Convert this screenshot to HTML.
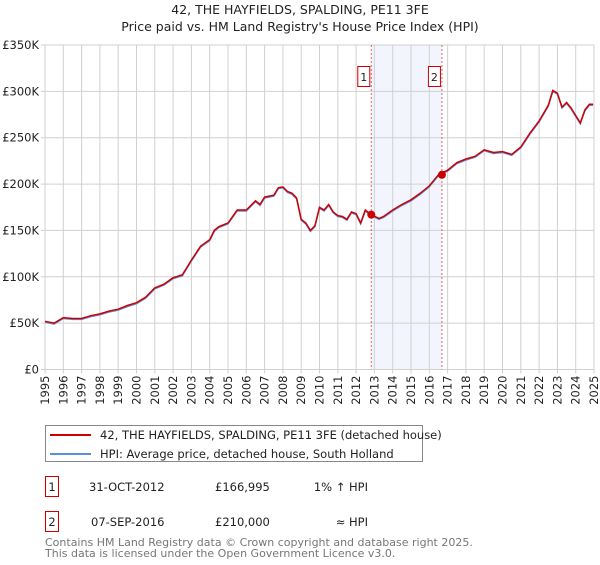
<!DOCTYPE html>
<html><head><meta charset="utf-8"><style>
body{margin:0;background:#fff;font-family:"Liberation Sans","DejaVu Sans",sans-serif;}
svg text{font-family:"DejaVu Sans","Liberation Sans",sans-serif;}
</style></head><body>
<svg id="chart" width="600" height="560" viewBox="0 0 600 560" xmlns="http://www.w3.org/2000/svg">
<text x="300" y="14" text-anchor="middle" font-size="12.5" fill="#222">42, THE HAYFIELDS, SPALDING, PE11 3FE</text>
<text x="300" y="31" text-anchor="middle" font-size="12.5" fill="#222">Price paid vs. HM Land Registry's House Price Index (HPI)</text>
<g id="plot"></g>
<g>
<rect x="45.5" y="425.5" width="377" height="36" fill="#fff" stroke="#888"/>
<line x1="50" y1="435" x2="91" y2="435" stroke="#cc0000" stroke-width="2"/>
<text x="100" y="439" font-size="11.5" fill="#222">42, THE HAYFIELDS, SPALDING, PE11 3FE (detached house)</text>
<line x1="50" y1="454" x2="91" y2="454" stroke="#5b8fd6" stroke-width="2"/>
<text x="100" y="458" font-size="11.5" fill="#222">HPI: Average price, detached house, South Holland</text>
</g>
<g font-size="11.5" fill="#222">
<rect x="45.5" y="476.5" width="13" height="20" fill="#fff" stroke="#cc0000"/>
<text x="52" y="491" text-anchor="middle">1</text>
<text x="89" y="491">31-OCT-2012</text>
<text x="215" y="491">£166,995</text>
<text x="368" y="491" text-anchor="end">1% ↑ HPI</text>
</g>
<g font-size="11.5" fill="#222">
<rect x="45.5" y="511.5" width="13" height="20" fill="#fff" stroke="#cc0000"/>
<text x="52" y="526" text-anchor="middle">2</text>
<text x="91" y="526">07-SEP-2016</text>
<text x="215" y="526">£210,000</text>
<text x="368" y="526" text-anchor="end">≈ HPI</text>
</g>
<text x="45" y="546" font-size="11" fill="#777">Contains HM Land Registry data © Crown copyright and database right 2025.</text>
<text x="45" y="557" font-size="11" fill="#777">This data is licensed under the Open Government Licence v3.0.</text>
</svg>
<script>
const priceYears=[1995,1995.5,1996,1996.5,1997,1997.5,1998,1998.5,1999,1999.5,2000,2000.5,2001,2001.5,2002,2002.5,2003,2003.5,2004,2004.25,2004.5,2005,2005.5,2006,2006.5,2006.75,2007,2007.5,2007.75,2008,2008.25,2008.5,2008.75,2009,2009.25,2009.5,2009.75,2010,2010.25,2010.5,2010.75,2011,2011.25,2011.5,2011.75,2012,2012.25,2012.5,2012.83,2013.25,2013.5,2014,2014.5,2015,2015.5,2016,2016.5,2017,2017.5,2018,2018.5,2019,2019.5,2020,2020.5,2021,2021.5,2022,2022.5,2022.75,2023,2023.25,2023.5,2023.75,2024,2024.25,2024.5,2024.75,2024.95];
const priceValues=[52,50,56,55,55,58,60,63,65,69,72,78,88,92,99,102,118,133,140,150,154,158,172,172,182,178,186,188,196,197,192,190,185,162,158,150,155,175,172,178,170,166,165,162,170,168,158,172,167,163,165,172,178,183,190,198,210,215,223,227,230,237,234,235,232,240,255,268,285,301,298,283,288,282,274,266,280,286,286];
const hpiValues=[51,49,55,54,54,57,59,62,64,68,71,77,87,91,98,101,117,132,139,149,153,157,171,171,181,177,185,187,195,196,191,189,184,161,157,149,154,174,171,177,169,165,164,161,169,167,157,171,166,162,164,171,177,182,189,197,209,214,222,226,229,236,233,234,231,239,254,267,284,300,297,282,287,281,273,265,279,285,285];
const yTicks=[0,50,100,150,200,250,300,350];
const yTickLabels=["£0","£50K","£100K","£150K","£200K","£250K","£300K","£350K"];
const xTicks=[1995,1996,1997,1998,1999,2000,2001,2002,2003,2004,2005,2006,2007,2008,2009,2010,2011,2012,2013,2014,2015,2016,2017,2018,2019,2020,2021,2022,2023,2024,2025];
const saleYears=[2012.83,2016.69];
const saleValues=[166.995,210];
const saleLabels=["1","2"];
const X=y=>45+(y-1995)*(549/30);
const Y=v=>369.5-v*(324.5/350);
const NS="http://www.w3.org/2000/svg";
const g=document.getElementById('plot');
function mk(t,a){const e=document.createElementNS(NS,t);for(const k in a)e.setAttribute(k,a[k]);g.appendChild(e);return e;}
let e;
e=mk('rect',{x:X(saleYears[0]),y:Y(350),width:X(saleYears[1])-X(saleYears[0]),height:Y(0)-Y(350),fill:'#f2f5fd'});


xTicks.forEach(t=>{
 e=mk('line',{x1:X(t),x2:X(t),y1:Y(350),y2:Y(0)+4,stroke:'#d0d0d0','stroke-width':1});
 
 
 e=mk('text',{transform:`translate(${X(t)+4},${Y(0)+6}) rotate(-90)`,'text-anchor':'end','font-size':11.5,fill:'#222'});
 e.textContent=t;
 
 
});
yTicks.forEach((t,i)=>{
 e=mk('line',{x1:X(1995)-4,x2:X(2025),y1:Y(t),y2:Y(t),stroke:'#d0d0d0','stroke-width':1});
 
 
 e=mk('text',{x:X(1995)-6,y:Y(t)+4,'text-anchor':'end','font-size':11.5,fill:'#222'});
 e.textContent=yTickLabels[i];
 
 
});
saleYears.forEach((s,i)=>{
 e=mk('line',{x1:X(s),x2:X(s),y1:Y(350),y2:Y(0),stroke:'#e06060','stroke-width':1,'stroke-dasharray':'2,2'});
 
 
 e=mk('rect',{x:X(s)-13.5,y:66.5,width:12,height:20,fill:'#fff',stroke:'#cc0000'});
 
 
 e=mk('text',{x:X(s)-7.5,y:81,'text-anchor':'middle','font-size':11,fill:'#222'});
 e.textContent=saleLabels[i];
 
 
});
function pts(vs){return priceYears.map((y,i)=>X(y).toFixed(1)+','+Y(vs[i]).toFixed(1)).join(' ');}
e=mk('polyline',{points:pts(hpiValues),fill:'none',stroke:'#5b8fd6','stroke-width':1.5});


e=mk('polyline',{points:pts(priceValues),fill:'none',stroke:'#cc0000','stroke-width':1.5});


saleYears.forEach((s,i)=>{
 e=mk('circle',{cx:X(s),cy:Y(saleValues[i]),r:4,fill:'#cc0000'});
 
 
});
</script>
</body></html>
